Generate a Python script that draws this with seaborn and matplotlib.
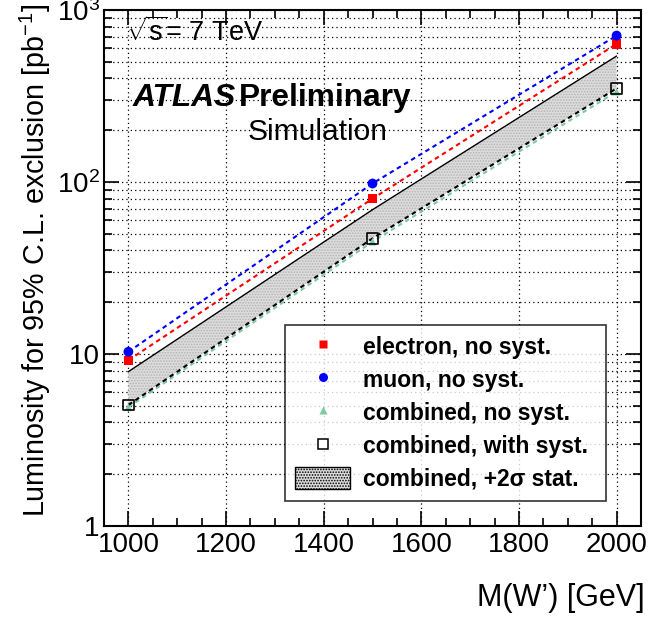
import matplotlib
matplotlib.use("Agg")
import matplotlib.pyplot as plt
import numpy as np
import pandas as pd
import seaborn as sns
from matplotlib.lines import Line2D
from matplotlib.patches import Patch
from matplotlib.ticker import FixedLocator, FixedFormatter, MultipleLocator, LogLocator, NullFormatter

# W' mass points and luminosity needed for a 95% C.L. exclusion
mass = [1000, 1500, 2000]
lumi_electron = [9.2, 80, 635]
lumi_muon = [10.3, 98, 710]
lumi_comb_nosyst = [4.9, 45, 335]
lumi_comb_syst = [5.05, 47, 350]
lumi_comb_2sigma = [7.9, 69, 540]

x_ticks = [1000, 1200, 1400, 1600, 1800, 2000]
y_ticks = [1, 10, 100, 1000]
y_tick_labels = ["1", "10", r"$10^{2}$", r"$10^{3}$"]

labels = ["electron, no syst.", "muon, no syst.", "combined, no syst.",
          "combined, with syst.", "combined, +2σ stat."]

sns.set_theme(style="ticks")
plt.rcParams["font.family"] = ["Liberation Sans", "DejaVu Sans"]
plt.rcParams["mathtext.fontset"] = "custom"
plt.rcParams["mathtext.rm"] = "Liberation Sans"
plt.rcParams["mathtext.it"] = "Liberation Sans:italic"
plt.rcParams["mathtext.bf"] = "Liberation Sans:bold"
for key in ["text.color", "axes.labelcolor", "xtick.color", "ytick.color",
            "axes.edgecolor"]:
    plt.rcParams[key] = "black"
plt.rcParams["hatch.linewidth"] = 0.8

W, H = 652, 622
fig = plt.figure(figsize=(W / 100, H / 100), dpi=100)
ax = fig.add_axes([104 / W, 1 - 526 / H, (641 - 104) / W, (526 - 10) / H])

df = pd.DataFrame({
    "mass": mass,
    "electron": lumi_electron,
    "muon": lumi_muon,
    "comb_nosyst": lumi_comb_nosyst,
    "comb_syst": lumi_comb_syst,
    "comb_2sigma": lumi_comb_2sigma,
})

band_face = "#dcdcdc"
band_hatch = "#b4b4b4"

# +2 sigma statistical band above the combined expectation
ax.fill_between(df["mass"], df["comb_syst"], df["comb_2sigma"],
                facecolor=band_face, edgecolor=band_hatch, hatch="......",
                linewidth=0, zorder=1)
sns.lineplot(data=df, x="mass", y="comb_2sigma", ax=ax, color="black",
             linewidth=1.0, zorder=2)

dash = (0, (2.2, 1.8))
sns.lineplot(data=df, x="mass", y="electron", ax=ax, color="#ff0000",
             linewidth=1.5, linestyle=dash, zorder=3)
sns.lineplot(data=df, x="mass", y="muon", ax=ax, color="#0000ff",
             linewidth=1.5, linestyle=dash, zorder=3)
sns.lineplot(data=df, x="mass", y="comb_nosyst", ax=ax, color="#7fc9a5",
             linewidth=1.5, linestyle=dash, zorder=3)
sns.lineplot(data=df, x="mass", y="comb_syst", ax=ax, color="black",
             linewidth=1.5, linestyle=dash, zorder=3)

sns.scatterplot(data=df, x="mass", y="electron", ax=ax, marker="s", s=45,
                color="#ff0000", edgecolor="none", zorder=5)
sns.scatterplot(data=df, x="mass", y="muon", ax=ax, marker="o", s=50,
                color="#0000ff", edgecolor="none", zorder=5)
sns.scatterplot(data=df, x="mass", y="comb_nosyst", ax=ax, marker="^", s=30,
                color="#7fc9a5", edgecolor="none", zorder=5)
sns.scatterplot(data=df, x="mass", y="comb_syst", ax=ax, marker="s", s=55,
                facecolor="none", edgecolor="black", linewidth=1.2, zorder=6)

ax.set_yscale("log")
ax.set_xlim(950, 2050)
ax.set_ylim(1, 1000)
ax.set_xlabel("")
ax.set_ylabel("")

ax.xaxis.set_major_locator(FixedLocator(x_ticks))
ax.xaxis.set_minor_locator(MultipleLocator(50))
ax.yaxis.set_major_locator(FixedLocator(y_ticks))
ax.yaxis.set_major_formatter(FixedFormatter(y_tick_labels))
ax.yaxis.set_minor_locator(LogLocator(base=10, subs=np.arange(2, 10)))
ax.yaxis.set_minor_formatter(NullFormatter())

ax.tick_params(which="both", direction="in", top=True, right=True,
               width=1.2, color="black", labelcolor="black", labelsize=20)
ax.tick_params(which="major", length=11)
ax.tick_params(which="minor", length=5.5)
ax.tick_params(axis="x", pad=4)
ax.tick_params(axis="y", pad=3)

ax.grid(True, which="major", axis="x", linestyle=(0, (1, 2.5)),
        color="black", linewidth=0.9)
ax.grid(True, which="both", axis="y", linestyle=(0, (1, 2.5)),
        color="black", linewidth=0.9)
for sp in ax.spines.values():
    sp.set_linewidth(1.5)
    sp.set_color("black")
    sp.set_visible(True)

# axis titles at the far ends of the axes
fig.text(35 / W, 1 - 4 / H, r"Luminosity for 95% C.L. exclusion [pb$^{-1}$]",
         rotation=90, ha="center", va="top", fontsize=20.7)
fig.text(645 / W, 1 - 598 / H, "M(W’) [GeV]", ha="right", va="center",
         fontsize=22)

# annotations
fig.text(126 / W, 1 - 41 / H, r"$\sqrt{\mathrm{s}}$= 7 TeV", ha="left",
         va="baseline", fontsize=19.5)
fig.text(133 / W, 1 - 106 / H, "ATLAS", ha="left", va="baseline",
         fontsize=22.8, fontweight="bold", fontstyle="italic")
fig.text(239 / W, 1 - 106 / H, "Preliminary", ha="left", va="baseline",
         fontsize=22.8, fontweight="bold")
fig.text(248 / W, 1 - 140 / H, "Simulation", ha="left", va="baseline",
         fontsize=21.5)

handles = [
    Line2D([], [], linestyle="none", marker="s", markersize=6,
           color="#ff0000", markeredgecolor="none"),
    Line2D([], [], linestyle="none", marker="o", markersize=6.5,
           color="#0000ff", markeredgecolor="none"),
    Line2D([], [], linestyle="none", marker="^", markersize=5.5,
           color="#7fc9a5", markeredgecolor="none"),
    Line2D([], [], linestyle="none", marker="s", markersize=6.5,
           markerfacecolor="white", markeredgecolor="black",
           markeredgewidth=1.1),
    Patch(facecolor=band_face, edgecolor="black", hatch="......",
          linewidth=1.0),
]
leg = ax.legend(handles, labels, loc="upper left",
                bbox_to_anchor=(0.337, 0.054, 0.598, 0.336), mode="expand",
                prop={"weight": "bold", "size": 16.5}, frameon=True,
                fancybox=False, shadow=False, borderpad=0.45,
                labelspacing=0.42, handlelength=2.4, handleheight=1.05,
                handletextpad=0.55, borderaxespad=0)
leg.get_frame().set_edgecolor("black")
leg.get_frame().set_linewidth(1.2)
leg.set_zorder(10)

fig.savefig("out.png", dpi=100)
